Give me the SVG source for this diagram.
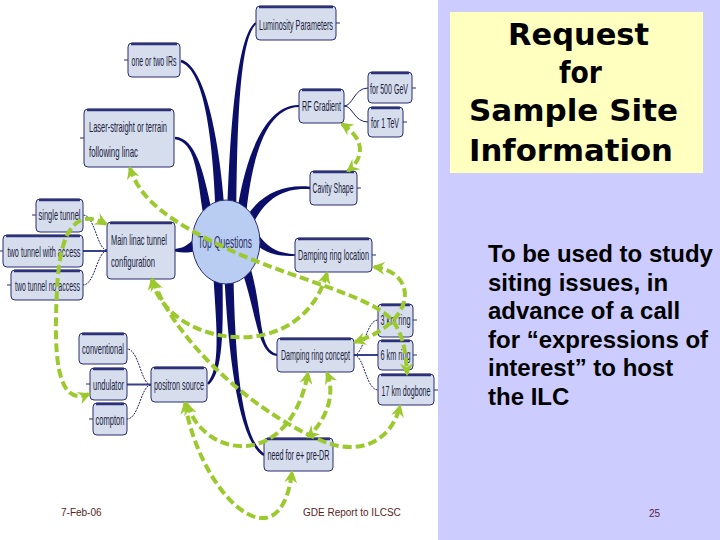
<svg xmlns="http://www.w3.org/2000/svg" width="720" height="540" viewBox="0 0 720 540">
<defs>
<style>
.bx{fill:#d6deee;stroke:#282d70;stroke-width:1}
.bt{stroke:#2c3178;stroke-width:2.5;fill:none}
.t{font-family:"Liberation Sans",Arial,sans-serif;font-size:15px;fill:#1b1c3c;text-anchor:middle}
.tl{font-family:"Liberation Sans",Arial,sans-serif;font-size:15px;fill:#1b1c3c}
.br{fill:#0c0f6a}
.sub{fill:none;stroke:#1c206a;stroke-width:1}
.subm{fill:none;stroke:#3a3f8c;stroke-width:2}
.stub{stroke:#282d70;stroke-width:1}
.g{fill:none;stroke:#9cc92e;stroke-width:4;stroke-dasharray:9 4;marker-start:url(#ah);marker-end:url(#ah)}
.title{font-family:"DejaVu Sans","Liberation Sans",sans-serif;font-weight:bold;font-size:30px;fill:#000}
.body{font-family:"Liberation Sans",Arial,sans-serif;font-weight:bold;font-size:24px;fill:#000}
.foot{font-family:"Liberation Sans",Arial,sans-serif;font-size:10px;fill:#5a1e1e}
</style>
<marker id="ah" viewBox="0 0 12 12" refX="10" refY="6" markerWidth="13" markerHeight="13" markerUnits="userSpaceOnUse" orient="auto-start-reverse">
<path d="M0,0 L12,6 L0,12 L4,6 Z" fill="#9cc92e"/>
</marker>
</defs>
<rect x="0" y="0" width="720" height="540" fill="#ffffff"/>
<rect x="438" y="0" width="282" height="540" fill="#ccccff"/>
<g id="title-box">
<rect x="450" y="12" width="253" height="161" fill="#ffffbf"/>
<text class="title" x="508" y="45" textLength="141" lengthAdjust="spacingAndGlyphs">Request</text>
<text class="title" x="559" y="83" textLength="43" lengthAdjust="spacingAndGlyphs">for</text>
<text class="title" x="469" y="121" textLength="209" lengthAdjust="spacingAndGlyphs">Sample Site</text>
<text class="title" x="469" y="161" textLength="204" lengthAdjust="spacingAndGlyphs">Information</text>
</g>
<g id="body-text">
<text class="body" x="488" y="262">To be used to study</text>
<text class="body" x="488" y="290.5">siting issues, in</text>
<text class="body" x="488" y="319">advance of a call</text>
<text class="body" x="488" y="347.5">for “expressions of</text>
<text class="body" x="488" y="376">interest” to host</text>
<text class="body" x="488" y="404.5">the ILC</text>
</g>
<g id="footer">
<text class="foot" x="61" y="516">7-Feb-06</text>
<text class="foot" x="303" y="516">GDE Report to ILCSC</text>
<text class="foot" x="649" y="517" style="fill:#5a1e3a">25</text>
</g>
<g id="branches">
<path class="br" d="M227.5 208 C230.7 110,239 33.6,255.4 22.2 L256.6 23.8 C241 36.4,237.3 110,236.5 208 Z"/>
<path class="br" d="M215.5 208 C212.7 140,204.5 69.7,180.7 62.2 L181.3 59.8 C205.5 66.3,219.3 140,224.5 208 Z"/>
<path class="br" d="M202.6 210.9 C196.8 170.6,194.8 141.8,174.9 139.2 L175.1 136.8 C195.2 138.2,203.2 169.4,211.4 209.1 Z"/>
<path class="br" d="M237.5 209.3 C246.7 149.5,268 104.2,299 105 L299 107 C268 107.8,253.3 150.5,246.5 210.7 Z"/>
<path class="br" d="M247.4 215.3 C262.3 193,285.1 184.2,310.1 186.8 L309.9 189.2 C284.9 187.8,267.7 197,254.6 220.7 Z"/>
<path class="br" d="M259.6 236.3 C270.6 250,280 253.2,295 254.2 L295 255.8 C280 256.8,265.4 254,252.4 241.7 Z"/>
<path class="br" d="M196 237 C186 247,182 248,175 249 L175 251.5 C182 253,188 253,196 251 Z"/>
<path class="br" d="M222.5 278 C223.3 330,223.3 372.3,208.8 384.8 L207.2 383.2 C220.7 367.7,216.7 330,213.5 278 Z"/>
<path class="br" d="M233.5 278 C235.3 360,241 438.5,264.6 454 L263.4 456 C239 441.5,228.7 360,224.5 278 Z"/>
<path class="br" d="M251.3 270.7 C263.2 314,258.3 350.2,277.2 354 L276.8 356 C257.7 353.8,256.8 316,242.7 273.3 Z"/>
</g>
<g id="sub-branches">
<path class="sub" d="M344 106 C353 106,354 88,368 88"/>
<path class="sub" d="M344 106 C353 106,354 122,368 122"/>
<path class="sub" d="M107 250 C97 250,95 215,83 215" stroke-dasharray="2 1"/>
<path class="subm" d="M83 251 L107 251"/>
<path class="sub" d="M107 251 C97 251,95 285,83 285" stroke-dasharray="2 1"/>
<path class="sub" d="M151 385 C141 385,139 349,127 349" stroke-dasharray="2 1"/>
<path class="subm" d="M127 384.5 L151 384.5"/>
<path class="sub" d="M151 385 C141 385,139 419,127 419" stroke-dasharray="2 1"/>
<path class="sub" d="M354 355 C364 355,366 320,378 320" stroke-dasharray="2 1"/>
<path class="subm" d="M354 355 L378 355"/>
<path class="sub" d="M354 355 C364 355,366 390,378 390" stroke-dasharray="2 1"/>
<line class="stub" x1="336" y1="23" x2="340" y2="23"/>
<line class="stub" x1="124" y1="60" x2="128" y2="60"/>
<line class="stub" x1="80" y1="138" x2="84" y2="138"/>
<line class="stub" x1="412" y1="88" x2="416" y2="88"/>
<line class="stub" x1="403" y1="122" x2="407" y2="122"/>
<line class="stub" x1="357" y1="188" x2="361" y2="188"/>
<line class="stub" x1="372" y1="255" x2="376" y2="255"/>
<line class="stub" x1="413" y1="320" x2="417" y2="320"/>
<line class="stub" x1="413" y1="355" x2="417" y2="355"/>
<line class="stub" x1="434" y1="390" x2="438" y2="390"/>
<line class="stub" x1="32" y1="215" x2="36" y2="215"/>
<line class="stub" x1="0" y1="251" x2="3" y2="251"/>
<line class="stub" x1="7" y1="285" x2="11" y2="285"/>
<line class="stub" x1="86" y1="384" x2="90" y2="384"/>
<line class="stub" x1="89" y1="419" x2="93" y2="419"/>
</g>
<g id="top-questions">
<ellipse cx="226" cy="242" rx="34" ry="42" fill="#b9cdf3" stroke="#2a3070" stroke-width="1"/>
<text x="225" y="248" style="font-family:'Liberation Sans',Arial,sans-serif;font-size:17px;fill:#2a2f5e;text-anchor:middle" textLength="54" lengthAdjust="spacingAndGlyphs">Top Questions</text>
</g>
<g id="n-lum"><rect class="bx" x="256" y="6" width="80" height="34" rx="4"/><path class="bt" d="M259 7 H333"/><text class="t" x="296" y="30" textLength="74" lengthAdjust="spacingAndGlyphs">Luminosity Parameters</text></g>
<g id="n-irs"><rect class="bx" x="128" y="43" width="52" height="34" rx="4"/><path class="bt" d="M131 44 H177"/><text class="t" x="154" y="66" textLength="45" lengthAdjust="spacingAndGlyphs">one or two IRs</text></g>
<g id="n-rf"><rect class="bx" x="299" y="89" width="45" height="34" rx="4"/><path class="bt" d="M302 90 H341"/><text class="t" x="321.5" y="111" textLength="39" lengthAdjust="spacingAndGlyphs">RF Gradient</text></g>
<g id="n-500"><rect class="bx" x="368" y="72" width="44" height="31" rx="4"/><path class="bt" d="M371 73 H409"/><text class="t" x="389" y="94" textLength="38" lengthAdjust="spacingAndGlyphs">for 500 GeV</text></g>
<g id="n-1tev"><rect class="bx" x="368" y="107" width="35" height="30" rx="4"/><path class="bt" d="M371 108 H400"/><text class="t" x="385" y="128" textLength="28" lengthAdjust="spacingAndGlyphs">for 1 TeV</text></g>
<g id="n-laser"><rect class="bx" x="84" y="109" width="90" height="58" rx="4"/><path class="bt" d="M87 110 H171"/><text class="tl" x="89" y="132" textLength="78" lengthAdjust="spacingAndGlyphs">Laser-straight or terrain</text><text class="tl" x="89" y="157" textLength="49" lengthAdjust="spacingAndGlyphs">following linac</text></g>
<g id="n-cavity"><rect class="bx" x="310" y="171" width="47" height="34" rx="4"/><path class="bt" d="M313 172 H354"/><text class="t" x="333" y="193" textLength="41" lengthAdjust="spacingAndGlyphs">Cavity Shape</text></g>
<g id="n-single"><rect class="bx" x="36" y="199" width="47" height="33" rx="4"/><path class="bt" d="M39 200 H80"/><text class="t" x="59.5" y="220" textLength="42" lengthAdjust="spacingAndGlyphs">single tunnel</text></g>
<g id="n-twoacc"><rect class="bx" x="3" y="235" width="80" height="32" rx="4"/><path class="bt" d="M6 236 H80"/><text class="t" x="44" y="257" textLength="73" lengthAdjust="spacingAndGlyphs">two tunnel with access</text></g>
<g id="n-twono"><rect class="bx" x="11" y="270" width="72" height="30" rx="4"/><path class="bt" d="M14 271 H80"/><text class="t" x="47.5" y="291" textLength="65" lengthAdjust="spacingAndGlyphs">two tunnel no access</text></g>
<g id="n-main"><rect class="bx" x="107" y="222" width="68" height="57" rx="4"/><path class="bt" d="M110 223 H172"/><text class="tl" x="111" y="245" textLength="56" lengthAdjust="spacingAndGlyphs">Main linac tunnel</text><text class="tl" x="111" y="267" textLength="44" lengthAdjust="spacingAndGlyphs">configuration</text></g>
<g id="n-drloc"><rect class="bx" x="295" y="238" width="77" height="34" rx="4"/><path class="bt" d="M298 239 H369"/><text class="t" x="333.5" y="260" textLength="71" lengthAdjust="spacingAndGlyphs">Damping ring location</text></g>
<g id="n-3km"><rect class="bx" x="378" y="304" width="35" height="33" rx="4"/><path class="bt" d="M381 305 H410"/><text class="t" x="395.5" y="325" textLength="30" lengthAdjust="spacingAndGlyphs">3 km ring</text></g>
<g id="n-6km"><rect class="bx" x="378" y="340" width="35" height="30" rx="4"/><path class="bt" d="M381 341 H410"/><text class="t" x="395.5" y="360" textLength="30" lengthAdjust="spacingAndGlyphs">6 km ring</text></g>
<g id="n-17km"><rect class="bx" x="378" y="374" width="56" height="31" rx="4"/><path class="bt" d="M381 375 H431"/><text class="t" x="406" y="396" textLength="49" lengthAdjust="spacingAndGlyphs">17 km dogbone</text></g>
<g id="n-drcon"><rect class="bx" x="277" y="338" width="77" height="34" rx="4"/><path class="bt" d="M280 339 H351"/><text class="t" x="315.5" y="360" textLength="69" lengthAdjust="spacingAndGlyphs">Damping ring concept</text></g>
<g id="n-conv"><rect class="bx" x="79" y="333" width="48" height="31" rx="4"/><path class="bt" d="M82 334 H124"/><text class="t" x="103" y="354" textLength="42" lengthAdjust="spacingAndGlyphs">conventional</text></g>
<g id="n-und"><rect class="bx" x="90" y="368" width="37" height="32" rx="4"/><path class="bt" d="M93 369 H124"/><text class="t" x="108.5" y="390" textLength="31" lengthAdjust="spacingAndGlyphs">undulator</text></g>
<g id="n-comp"><rect class="bx" x="93" y="403" width="34" height="32" rx="4"/><path class="bt" d="M96 404 H124"/><text class="t" x="110" y="425" textLength="29" lengthAdjust="spacingAndGlyphs">compton</text></g>
<g id="n-pos"><rect class="bx" x="151" y="367" width="56" height="35" rx="4"/><path class="bt" d="M154 368 H204"/><text class="t" x="179" y="390" textLength="50" lengthAdjust="spacingAndGlyphs">positron source</text></g>
<g id="n-pre"><rect class="bx" x="264" y="438" width="69" height="33" rx="4"/><path class="bt" d="M267 439 H330"/><text class="t" x="298.5" y="460" textLength="62" lengthAdjust="spacingAndGlyphs">need for e+ pre-DR</text></g>
<g id="connectors">
<path class="g" d="M342 124 C366 140,364 158,348 171"/>
<path class="g" d="M130 168 C140 200,170 222,230 250 C290 278,370 295,392 320 C402 332,406 350,407 374"/>
<path class="g" d="M152 279 C165 345,300 370,327 273"/>
<path class="g" d="M374 267 C418 272,418 322,355 342"/>
<path class="g" d="M185 403 C200 495,280 570,292 472"/>
<path class="g" d="M187 404 C205 460,290 470,308 373"/>
<path class="g" d="M327 373 C336 395,326 420,308 437"/>
<path class="g" d="M153 280 C175 340,250 410,320 440 C360 458,392 440,400 406"/>
<path class="g" d="M106 224 C80 210,60 222,57 290 C54 350,55 408,89 394"/>
</g>
</svg>
